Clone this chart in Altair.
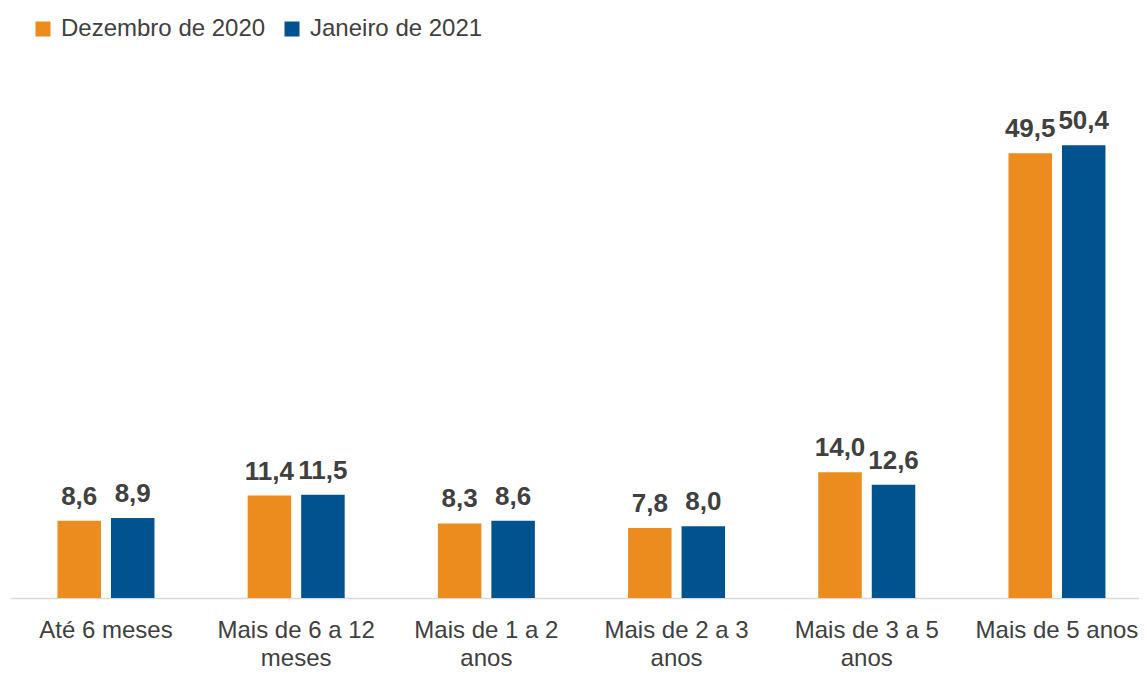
import altair as alt
import pandas as pd

categories = ["Até 6 meses", "Mais de 6 a 12|meses", "Mais de 1 a 2|anos",
              "Mais de 2 a 3|anos", "Mais de 3 a 5|anos", "Mais de 5 anos"]
series = ["Dezembro de 2020", "Janeiro de 2021"]
dez_2020 = [8.6, 11.4, 8.3, 7.8, 14.0, 49.5]
jan_2021 = [8.9, 11.5, 8.6, 8.0, 12.6, 50.4]
colors = ["#EC8B1E", "#00538E"]

FONT = "Liberation Sans"

rows = []
for c, a, b in zip(categories, dez_2020, jan_2021):
    rows.append({"cat": c, "serie": series[0], "v": a})
    rows.append({"cat": c, "serie": series[1], "v": b})
df = pd.DataFrame(rows)

base = alt.Chart(df).transform_calculate(
    lbl="replace(format(datum.v, '.1f'), '.', ',')"
).encode(
    x=alt.X("cat:N", sort=categories, title=None,
            scale=alt.Scale(paddingInner=0.49, paddingOuter=0.213, align=0.586, round=False),
            axis=alt.Axis(labelExpr="split(datum.label, '|')", labelAngle=0,
                          labelFontSize=24, labelColor="#404040", labelFont=FONT,
                          labelPadding=20, labelLineHeight=28, ticks=False, labelLimit=300,
                          domainColor="#D9D9D9", domainWidth=1.5, grid=False)),
    xOffset=alt.XOffset("serie:N", sort=series,
                        scale=alt.Scale(paddingInner=0.187, paddingOuter=0, round=False)),
    y=alt.Y("v:Q", title=None, scale=alt.Scale(domain=[0, 60]), axis=None),
)

bars = base.mark_bar().encode(
    color=alt.Color("serie:N", sort=series,
                    scale=alt.Scale(domain=series, range=colors),
                    legend=alt.Legend(title=None, orient="none", direction="horizontal",
                                      legendX=21, legendY=-42, symbolType="square",
                                      symbolSize=225, symbolStrokeWidth=0,
                                      labelFontSize=24, labelColor="#404040", labelLimit=400,
                                      labelFont=FONT, columnPadding=14,
                                      symbolOffset=0, labelOffset=6))
)

labels = base.mark_text(dy=-16, baseline="alphabetic", fontSize=26, fontWeight="bold",
                        font=FONT, color="#404040").encode(text="lbl:N")

chart = (bars + labels).properties(
    width=1129, height=539,
    autosize=alt.AutoSizeParams(type="none"),
    padding={"left": 2, "top": 51, "right": 0, "bottom": 76},
).configure_view(stroke=None)

chart.save("out.html", embed_options={"renderer": "svg", "actions": False})
